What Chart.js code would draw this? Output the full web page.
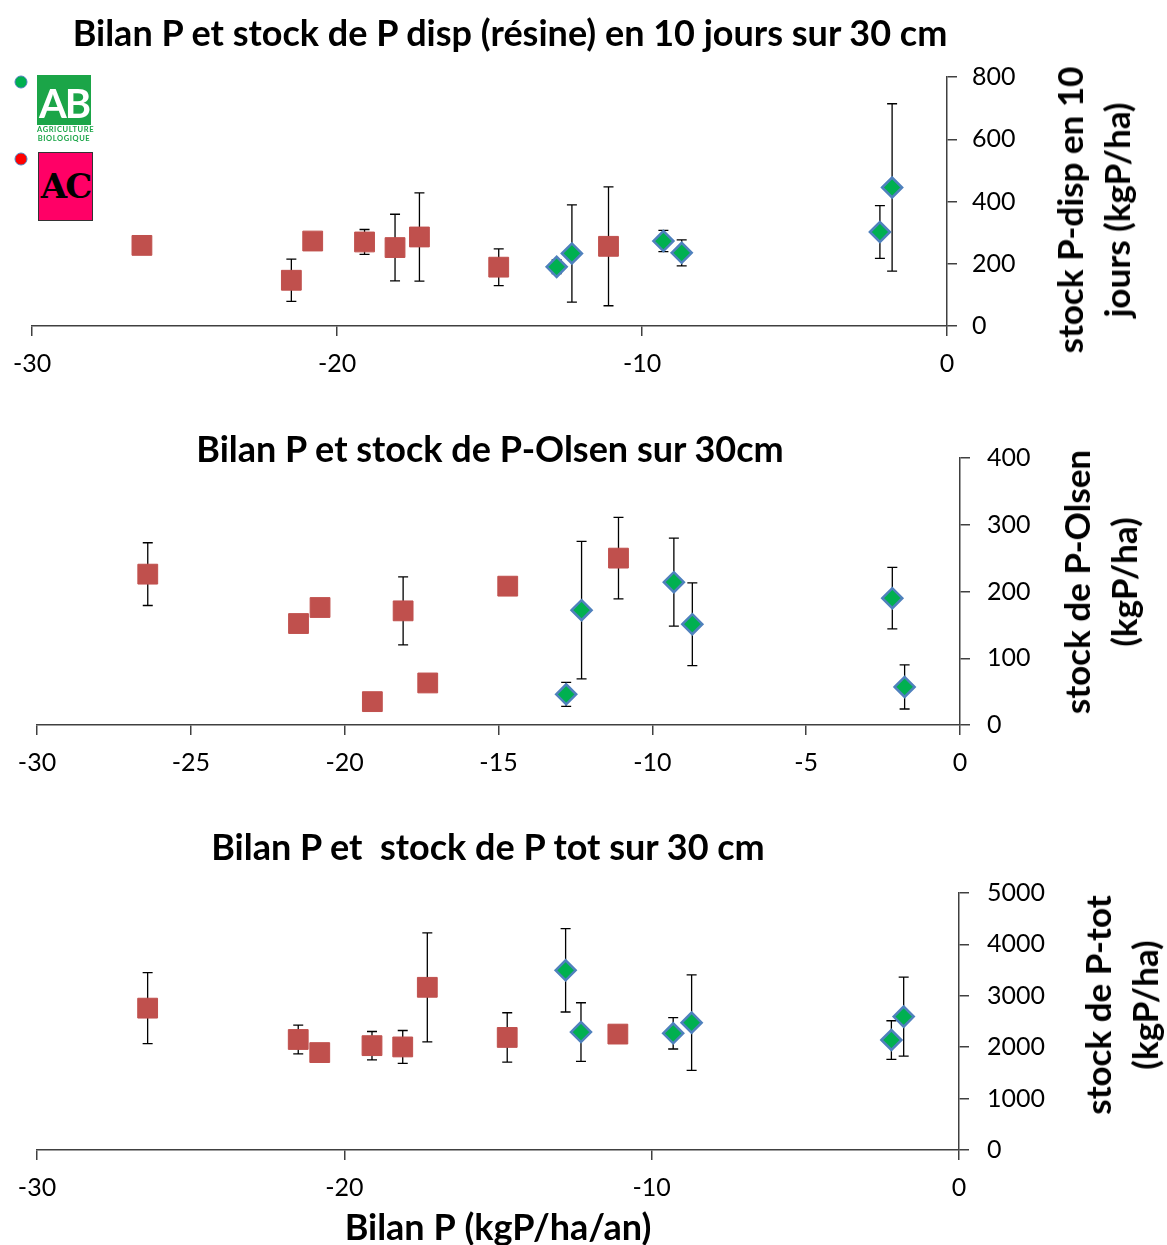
<!DOCTYPE html>
<html>
<head>
<meta charset="utf-8">
<script src="https://cdn.jsdelivr.net/npm/chart.js@4/dist/chart.umd.min.js"></script>
<style>
  body { margin: 0; background: #fff; font-family: Lato, sans-serif; }
  #page { position: relative; width: 1167px; height: 1245px; overflow: hidden; }
  .box { position: absolute; left: 0; width: 1167px; }
  .title { position: absolute; transform: translate(-50%, -50%); font-weight: bold; font-size: 36px; white-space: pre; color: #000; }
  .ytitle { position: absolute; transform: translate(-50%, -50%) rotate(-90deg); font-weight: bold; font-size: 35px; line-height: 47px; text-align: center; white-space: nowrap; color: #000; }
  .dot { position: absolute; width: 11px; height: 11px; border-radius: 50%; border: 1.5px solid #4F81BD; transform: translate(-50%, -50%); }
  #ab { position: absolute; left: 37px; top: 75px; width: 54px; }
  #ab .sq { height: 50px; background: #1BA548; color: #fff; font: bold 40px Lato, sans-serif; text-align: center; line-height: 56px; letter-spacing: -2px; }
  #ab .tx { color: #1BA548; font: bold 7.5px Lato, sans-serif; text-align: center; line-height: 8.5px; letter-spacing: 0.6px; margin-top: 1px; }
  #ac { position: absolute; left: 38px; top: 152px; width: 53px; height: 67px; background: #FF0066; border: 1.5px solid #333; font: bold 34px "DejaVu Serif", serif; color: #000; text-align: center; line-height: 67px; letter-spacing: -2px; }
</style>
</head>
<body>
<div id="page">
  <div class="box" style="top:0;height:400px"><canvas id="c1" width="1167" height="400"></canvas></div>
  <div class="box" style="top:400px;height:400px"><canvas id="c2" width="1167" height="400"></canvas></div>
  <div class="box" style="top:800px;height:445px"><canvas id="c3" width="1167" height="445"></canvas></div>

  <div class="title" style="left:510px;top:32px">Bilan P et stock de P disp (résine) en 10 jours sur 30 cm</div>
  <div class="title" style="left:490px;top:448px">Bilan P et stock de P-Olsen sur 30cm</div>
  <div class="title" style="left:488px;top:846px">Bilan P et  stock de P tot sur 30 cm</div>

  <div class="ytitle" style="left:1093px;top:210px">stock P-disp en 10<br>jours (kgP/ha)</div>
  <div class="ytitle" style="left:1100px;top:582px">stock de P-Olsen<br>(kgP/ha)</div>
  <div class="ytitle" style="left:1121px;top:1005px">stock de P-tot<br>(kgP/ha)</div>

  <div class="dot" style="left:21px;top:82px;background:#00B050"></div>
  <div class="dot" style="left:21px;top:159px;background:#FF0000"></div>
  <div id="ab"><div class="sq">AB</div><div class="tx">AGRICULTURE<br>BIOLOGIQUE</div></div>
  <div id="ac">AC</div>
</div>
<script>
// Bilan P (x) des parcelles AC et AB
const acX = [-26.4, -21.5, -20.8, -19.1, -18.1, -17.3, -14.7, -11.1];
const abX = [-12.8, -12.3, -9.3, -8.7, -2.2, -1.8];

// stock P-disp (résine) en 10 jours
const acDisp = [259, 147, 273, 270, 252, 286, 189, 256];
const acDispErr = [null, 68, null, 40, 107, 142, 59, 191];
const abDisp = [190, 233, 273, 235, 302, 445];
const abDispErr = [22, 156, 34, 42, 85, 269];

// stock P-Olsen
const acOlsen = [226, 152, 176, 35, 171, 63, 208, 250];
const acOlsenErr = [47, null, null, null, 51, null, null, 61];
const abOlsen = [46, 172, 214, 151, 190, 57];
const abOlsenErr = [18, 103, 66, 62, 46, 33];

// stock P tot
const acTot = [2760, 2150, 1895, 2030, 2005, 3165, 2190, 2255];
const acTotErr = [690, 280, null, 275, 320, 1060, 480, null];
const abTot = [3495, 2295, 2270, 2478, 2140, 2595];
const abTotErr = [810, 570, 305, 930, 375, 770];

const axisColor = '#404040';
const tickFont = { family: 'Lato', size: 25 };

// barres d'erreur verticales, dessinées sous les marqueurs
const errorBars = {
  id: 'errorBars',
  beforeDatasetsDraw(chart) {
    const { ctx, scales: { x, y } } = chart;
    ctx.save();
    ctx.strokeStyle = '#000';
    ctx.lineWidth = 1.3;
    chart.data.datasets.forEach(ds => {
      ds.data.forEach((p, i) => {
        const e = ds.errors[i];
        if (!e) return;
        const px = x.getPixelForValue(p.x);
        const top = y.getPixelForValue(p.y + e);
        const bot = y.getPixelForValue(p.y - e);
        ctx.beginPath();
        ctx.moveTo(px, top); ctx.lineTo(px, bot);
        ctx.moveTo(px - 5, top); ctx.lineTo(px + 5, top);
        ctx.moveTo(px - 5, bot); ctx.lineTo(px + 5, bot);
        ctx.stroke();
      });
    });
    ctx.restore();
  }
};

function pts(xs, ys) {
  return xs.map((x, i) => ({ x: x, y: ys[i] }));
}

function makeChart(id, cfg) {
  const canvas = document.getElementById(id);
  new Chart(canvas, {
    type: 'scatter',
    data: {
      datasets: [{
        label: 'AC',
        data: pts(acX, cfg.ac),
        errors: cfg.acErr,
        pointStyle: 'rect',
        pointRadius: 14,
        backgroundColor: '#C0504D',
        borderColor: '#C0504D',
        borderWidth: 1
      }, {
        label: 'AB',
        data: pts(abX, cfg.ab),
        errors: cfg.abErr,
        pointStyle: 'rectRot',
        pointRadius: 10,
        backgroundColor: '#00B050',
        borderColor: '#4F81BD',
        borderWidth: 2.5
      }]
    },
    options: {
      responsive: false,
      animation: false,
      devicePixelRatio: 1,
      layout: { padding: { top: cfg.top, left: cfg.left, right: 0, bottom: 0 } },
      plugins: { legend: { display: false }, title: { display: false }, tooltip: { enabled: false } },
      scales: {
        x: {
          type: 'linear',
          min: -30, max: 0,
          border: { color: axisColor, width: 1.5 },
          grid: { drawOnChartArea: false, drawTicks: true, tickLength: 10, color: axisColor, lineWidth: 1.5 },
          ticks: { stepSize: cfg.xStep, font: tickFont, color: '#000', padding: 13, maxRotation: 0,
                   callback: v => String(v) },
          title: cfg.xTitle ? { display: true, text: cfg.xTitle, font: { family: 'Lato', size: 36, weight: 'bold' }, color: '#000', padding: { top: 0, bottom: -5 } } : { display: false },
          afterFit(s) { s.height = cfg.xHeight; }
        },
        y: {
          type: 'linear',
          position: 'right',
          min: 0, max: cfg.yMax,
          border: { color: axisColor, width: 1.5 },
          grid: { drawOnChartArea: false, drawTicks: true, tickLength: 10, color: axisColor, lineWidth: 1.5 },
          ticks: { stepSize: cfg.yStep, font: tickFont, color: '#000', padding: cfg.yPad,
                   callback: v => String(v) },
          afterFit(s) { s.width = cfg.yWidth; }
        }
      }
    },
    plugins: [errorBars]
  });
}

makeChart('c1', { ac: acDisp, acErr: acDispErr, ab: abDisp, abErr: abDispErr,
  top: 77, left: 32, xHeight: 74, yWidth: 220, yMax: 800, yStep: 200, xStep: 10, yPad: 15 });
makeChart('c2', { ac: acOlsen, acErr: acOlsenErr, ab: abOlsen, abErr: abOlsenErr,
  top: 58, left: 37, xHeight: 75, yWidth: 207, yMax: 400, yStep: 100, xStep: 5, yPad: 17 });
makeChart('c3', { ac: acTot, acErr: acTotErr, ab: abTot, abErr: abTotErr,
  top: 93, left: 37, xHeight: 95, yWidth: 208, yMax: 5000, yStep: 1000, xStep: 10, yPad: 18,
  xTitle: 'Bilan P (kgP/ha/an)' });
</script>
</body>
</html>
